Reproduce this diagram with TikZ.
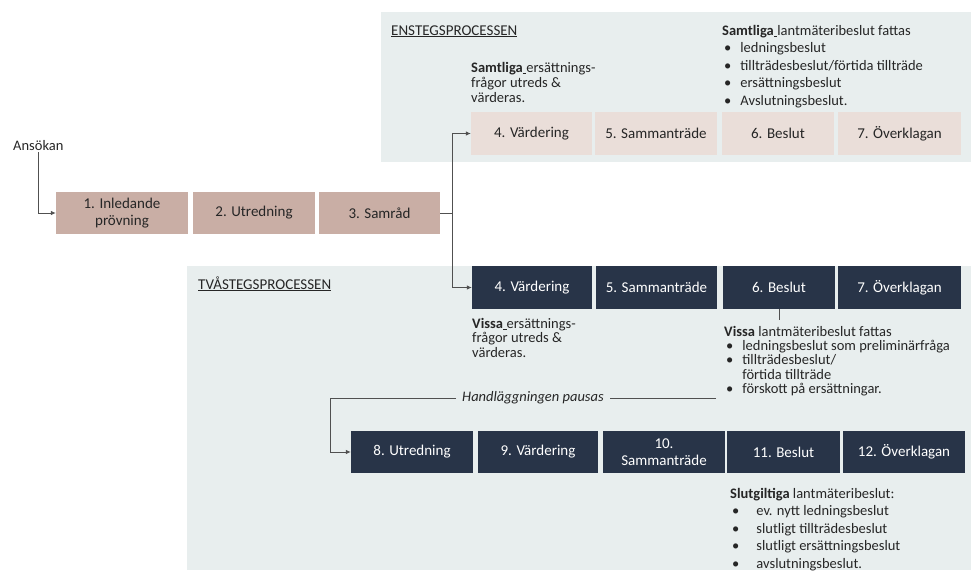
\documentclass[tikz,border=0pt]{standalone}
\usepackage{fontspec}
\setmainfont{Carlito}
\usetikzlibrary{arrows.meta,calc}
\definecolor{panel}{HTML}{E8EEEE}
\definecolor{lbox}{HTML}{EADED9}
\definecolor{bbox}{HTML}{C9AEA5}
\definecolor{dbox}{HTML}{283448}
\definecolor{txt}{HTML}{262626}
\definecolor{ln}{HTML}{505050}
\newcommand\usp{\rule[-2pt]{3.5pt}{0.6pt}}
\begin{document}
\begin{tikzpicture}[x=1pt,y=-1pt,
  box/.style={draw=none, inner sep=0pt, align=center, text=txt, font=\fontsize{15}{17}\selectfont},
  brown/.style={box, fill=bbox},
  light/.style={box, fill=lbox},
  dark/.style={box, fill=dbox, text=white},
  note/.style={anchor=base west, inner sep=0pt, text=txt},
  arr/.style={draw=ln, line width=0.8pt, -{Latex[length=5pt,width=4.5pt]}},
  conn/.style={draw=ln, line width=0.8pt},
]
\useasboundingbox (0,0) rectangle (975,571);
\fill[panel] (381,12) rectangle (971,162);
\fill[panel] (187,266) rectangle (971,570);

% headers
\node[note, font=\fontsize{15}{17}\selectfont] (hdA) at (391,35) {\underline{ENSTEGSPROCESSEN}};
\node[note, font=\fontsize{15}{17}\selectfont] (hdB) at (198,289) {\underline{TVÅSTEGSPROCESSEN}};

% first row
\node[brown, minimum width=132, minimum height=42] (b1) at (122,213) {1. Inledande\\prövning};
\node[brown, minimum width=122, minimum height=42] (b2) at (254,213) {2. Utredning};
\node[brown, minimum width=121, minimum height=42] (b3) at (379.5,213) {3. Samråd};

% one-step row
\node[light, minimum width=121, minimum height=43] (e4) at (531.5,133.5) {4. Värdering};
\node[light, minimum width=122, minimum height=43] (e5) at (656,133.5) {5. Sammanträde};
\node[light, minimum width=112, minimum height=43] (e6) at (778,133.5) {6. Beslut};
\node[light, minimum width=123, minimum height=43] (e7) at (899.5,133.5) {7. Överklagan};

% two-step row
\node[dark, minimum width=120, minimum height=43] (t4) at (532,287.5) {4. Värdering};
\node[dark, minimum width=121, minimum height=43] (t5) at (656.5,287.5) {5. Sammanträde};
\node[dark, minimum width=112, minimum height=43] (t6) at (779,287.5) {6. Beslut};
\node[dark, minimum width=123, minimum height=43] (t7) at (899.5,287.5) {7. Överklagan};

% final row
\node[dark, minimum width=122, minimum height=42] (b8) at (412,452) {8. Utredning};
\node[dark, minimum width=120, minimum height=42] (b9) at (538,452) {9. Värdering};
\node[dark, minimum width=122, minimum height=42] (b10) at (664,452) {10.\\Sammanträde};
\node[dark, minimum width=113, minimum height=42] (b11) at (783.5,452) {11. Beslut};
\node[dark, minimum width=122, minimum height=42] (b12) at (904,452) {12. Överklagan};

% notes
\node[note, font=\fontsize{14.5}{15}\selectfont] (ansA) at (471,72) {\begin{tabular}[t]{@{}l@{}}\textbf{Samtliga}\usp ersättnings-\\frågor utreds \&\\värderas.\end{tabular}};
\node[note, font=\fontsize{14.5}{17.6}\selectfont] (lmA) at (722,35) {\begin{tabular}[t]{@{}l@{\hspace{9pt}}l@{}}\multicolumn{2}{@{}l@{}}{\textbf{Samtliga}\usp lantmäteribeslut fattas}\\\hspace*{2pt}\textbullet & ledningsbeslut\\\hspace*{2pt}\textbullet & tillträdesbeslut/förtida tillträde\\\hspace*{2pt}\textbullet & ersättningsbeslut\\\hspace*{2pt}\textbullet & Avslutningsbeslut.\end{tabular}};
\node[note, font=\fontsize{14.5}{14.7}\selectfont] (ansB) at (472,328) {\begin{tabular}[t]{@{}l@{}}\textbf{Vissa}\usp ersättnings-\\frågor utreds \&\\värderas.\end{tabular}};
\node[note, font=\fontsize{14.5}{14.4}\selectfont] (lmB) at (724,336) {\begin{tabular}[t]{@{}l@{\hspace{9pt}}l@{}}\multicolumn{2}{@{}l@{}}{\textbf{Vissa} lantmäteribeslut fattas}\\\hspace*{2pt}\textbullet & ledningsbeslut som preliminärfråga\\\hspace*{2pt}\textbullet & tillträdesbeslut/\\ & förtida tillträde\\\hspace*{2pt}\textbullet & förskott på ersättningar.\end{tabular}};
\node[note, font=\fontsize{14.5}{17.5}\selectfont] (lmC) at (730,498) {\begin{tabular}[t]{@{}l@{\hspace{17pt}}l@{}}\multicolumn{2}{@{}l@{}}{\textbf{Slutgiltiga} lantmäteribeslut:}\\\hspace*{2pt}\textbullet & ev. nytt ledningsbeslut\\\hspace*{2pt}\textbullet & slutligt tillträdesbeslut\\\hspace*{2pt}\textbullet & slutligt ersättningsbeslut\\\hspace*{2pt}\textbullet & avslutningsbeslut.\end{tabular}};

\node[anchor=base west, inner sep=2pt, text=txt, font=\fontsize{14.5}{17}\selectfont] (ans) at (11,150) {Ansökan};

% connectors
\draw[arr] (ans.south) |- (b1.west);
\coordinate (j) at ($(b3.east)+(12,0)$);
\draw[conn] (b3.east) -- (j);
\draw[arr] (j) |- (e4.west);
\draw[arr] (j) |- (t4.west);
\coordinate (tk) at (779,320);
\draw[conn] (t6.south) -- (tk);

\node[inner xsep=6pt, inner ysep=1pt, text=txt, font=\fontsize{14.5}{17}\selectfont\itshape] (pz) at (533,398) {Handläggningen pausas};
\coordinate (p1) at (716,398);
\coordinate (p2) at (330,398);
\draw[conn] (p1) -- (pz.east);
\draw[arr] (pz.west) -- (p2) |- (b8.west);
\end{tikzpicture}
\end{document}
